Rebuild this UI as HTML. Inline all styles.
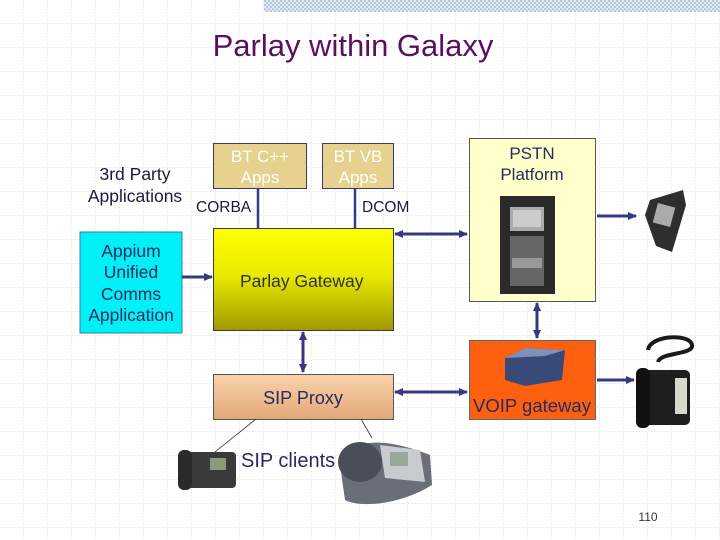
<!DOCTYPE html>
<html><head><meta charset="utf-8"><style>
html,body{margin:0;padding:0;background:#fff}
svg{display:block}
text{font-family:"Liberation Sans",Arial,sans-serif}
</style></head><body>
<svg width="720" height="540" viewBox="0 0 720 540" xmlns="http://www.w3.org/2000/svg">
<defs>
<pattern id="grid" width="24" height="24" patternUnits="userSpaceOnUse">
<path d="M24 0V24M0 24H24" stroke="#cfcfcf" stroke-width="1" stroke-dasharray="1.5 1.5" fill="none"/>
</pattern>
<pattern id="chk" width="4" height="4" patternUnits="userSpaceOnUse">
<rect width="4" height="4" fill="#e4eaf4"/><rect width="2" height="2" fill="#b9c7de"/><rect x="2" y="2" width="2" height="2" fill="#b9c7de"/>
</pattern>
<linearGradient id="pg" x1="0" y1="0" x2="0" y2="1"><stop offset="0" stop-color="#ffff00"/><stop offset="0.45" stop-color="#eaea00"/><stop offset="1" stop-color="#a09a00"/></linearGradient>
<linearGradient id="sp" x1="0" y1="0" x2="0" y2="1"><stop offset="0" stop-color="#fad2ac"/><stop offset="1" stop-color="#e2a878"/></linearGradient>
<marker id="ah" markerWidth="10" markerHeight="10" refX="8" refY="5" orient="auto" markerUnits="userSpaceOnUse"><path d="M0 1L9 5L0 9z" fill="#343a80"/></marker>
<marker id="ahs" markerWidth="10" markerHeight="10" refX="1" refY="5" orient="auto" markerUnits="userSpaceOnUse"><path d="M9 1L0 5L9 9z" fill="#343a80"/></marker>
</defs>
<rect width="720" height="540" fill="url(#grid)"/>
<rect x="264" y="0" width="456" height="12" fill="url(#chk)"/>

<text x="353" y="56" font-size="31" fill="#5a1060" text-anchor="middle">Parlay within Galaxy</text>

<!-- BT boxes -->
<rect x="213.5" y="143.5" width="93" height="45" fill="#e6d18e" stroke="#3a3a70"/>
<text x="260" y="162" font-size="17" fill="#fff" text-anchor="middle">BT C++</text>
<text x="260" y="183" font-size="17" fill="#fff" text-anchor="middle">Apps</text>
<rect x="322.5" y="143.5" width="71" height="45" fill="#e6d18e" stroke="#3a3a70"/>
<text x="358" y="162" font-size="17" fill="#fff" text-anchor="middle">BT VB</text>
<text x="358" y="183" font-size="17" fill="#fff" text-anchor="middle">Apps</text>
<line x1="258" y1="189" x2="258" y2="229" stroke="#343a80" stroke-width="2.5"/>
<line x1="355" y1="189" x2="355" y2="229" stroke="#343a80" stroke-width="2.5"/>
<text x="196" y="212" font-size="15.5" fill="#1a1a40">CORBA</text>
<text x="362" y="212" font-size="15.5" fill="#1a1a40">DCOM</text>
<text x="135" y="180" font-size="17.5" fill="#1a1a40" text-anchor="middle">3rd Party</text>
<text x="135" y="202" font-size="17.5" fill="#1a1a40" text-anchor="middle">Applications</text>

<!-- Parlay Gateway -->
<rect x="213.5" y="228.5" width="180" height="102" fill="url(#pg)" stroke="#3a3a40"/>
<text x="240" y="287" font-size="17.5" fill="#333">Parlay Gateway</text>

<!-- Appium -->
<rect x="80" y="232" width="102" height="101" fill="#00f0f8" stroke="#3080a0"/>
<text x="131" y="257" font-size="17.5" fill="#2a2a60" text-anchor="middle">Appium</text>
<text x="131" y="278" font-size="17.5" fill="#2a2a60" text-anchor="middle">Unified</text>
<text x="131" y="300" font-size="17.5" fill="#2a2a60" text-anchor="middle">Comms</text>
<text x="131" y="321" font-size="17.5" fill="#2a2a60" text-anchor="middle">Application</text>
<line x1="182" y1="277" x2="212" y2="277" stroke="#343a80" stroke-width="3" marker-end="url(#ah)"/>

<!-- PSTN -->
<rect x="469.5" y="138.5" width="126" height="163" fill="#ffffcc" stroke="#555"/>
<text x="532" y="159" font-size="17" fill="#2a2a60" text-anchor="middle">PSTN</text>
<text x="532" y="180" font-size="17" fill="#2a2a60" text-anchor="middle">Platform</text>
<rect x="500" y="196" width="55" height="98" fill="#2a2a2a"/>
<rect x="510" y="207" width="34" height="24" fill="#aaa"/>
<rect x="513" y="210" width="28" height="17" fill="#ccc"/>
<rect x="510" y="236" width="34" height="50" fill="#666"/>
<rect x="512" y="258" width="30" height="10" fill="#999"/>
<line x1="395" y1="234" x2="467" y2="234" stroke="#343a80" stroke-width="3" marker-start="url(#ahs)" marker-end="url(#ah)"/>
<line x1="597" y1="216" x2="636" y2="216" stroke="#343a80" stroke-width="3" marker-end="url(#ah)"/>
<!-- mobile phone -->
<path d="M650 200L683 190L686 205L672 252L656 246L645 215z" fill="#2e2e2e"/>
<rect x="655" y="205" width="18" height="20" fill="#aaa" transform="rotate(15 664 215)"/>
<line x1="537" y1="303" x2="537" y2="338" stroke="#343a80" stroke-width="3" marker-start="url(#ahs)" marker-end="url(#ah)"/>

<!-- VOIP -->
<rect x="469.5" y="340.5" width="126" height="79" fill="#ff6010" stroke="#666"/>
<path d="M505 358L525 348L565 350L562 380L525 386L505 380z" fill="#3a4a78"/>
<path d="M505 358L525 348L565 350L545 356z" fill="#8090b8"/>
<text x="532" y="412" font-size="18.5" fill="#2a2a60" text-anchor="middle">VOIP gateway</text>
<line x1="597" y1="380" x2="634" y2="380" stroke="#343a80" stroke-width="3" marker-end="url(#ah)"/>
<!-- desk phone -->
<path d="M648 350C650 335 690 333 692 345C694 355 660 352 658 362" stroke="#1a1a1a" stroke-width="4" fill="none"/>
<rect x="642" y="370" width="48" height="55" rx="5" fill="#1e1e1e"/>
<rect x="636" y="368" width="14" height="60" rx="6" fill="#111"/>
<rect x="675" y="378" width="12" height="36" fill="#d8d8c8"/>

<!-- SIP Proxy -->
<line x1="303" y1="332" x2="303" y2="372" stroke="#343a80" stroke-width="3" marker-start="url(#ahs)" marker-end="url(#ah)"/>
<rect x="213.5" y="374.5" width="180" height="45" fill="url(#sp)" stroke="#555"/>
<text x="303" y="404" font-size="18" fill="#2a2a60" text-anchor="middle">SIP Proxy</text>
<line x1="395" y1="392" x2="467" y2="392" stroke="#343a80" stroke-width="3" marker-start="url(#ahs)" marker-end="url(#ah)"/>
<line x1="256" y1="419" x2="205" y2="460" stroke="#333" stroke-width="0.8"/>
<line x1="361" y1="419" x2="372" y2="438" stroke="#333" stroke-width="0.8"/>
<!-- left phone -->
<rect x="186" y="452" width="50" height="36" rx="4" fill="#3a3a3a"/>
<rect x="178" y="450" width="14" height="40" rx="6" fill="#2a2a2a"/>
<rect x="210" y="458" width="16" height="12" fill="#8a9a7a"/>
<!-- right phone -->
<path d="M340 465C345 440 380 435 430 455L432 485C400 505 360 508 345 500z" fill="#6a6e78"/>
<ellipse cx="360" cy="462" rx="22" ry="20" fill="#4a4e58"/>
<path d="M380 445L420 450L425 482L385 478z" fill="#c8ccd0"/>
<rect x="390" y="452" width="18" height="14" fill="#9aa89a"/>
<text x="241" y="467" font-size="20" fill="#2a2a60">SIP clients</text>

<text x="648" y="521" font-size="12" fill="#333" text-anchor="middle">110</text>
</svg>
</body></html>
